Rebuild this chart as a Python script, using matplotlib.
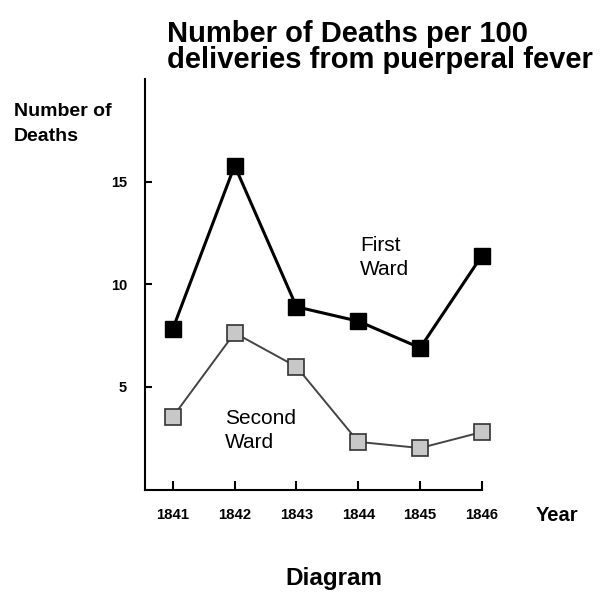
import matplotlib
matplotlib.use("Agg")
import matplotlib.pyplot as plt

plt.rcParams['font.family'] = ['Liberation Sans', 'DejaVu Sans']

years = [1841, 1842, 1843, 1844, 1845, 1846]
first_ward = [7.83, 15.78, 8.9, 8.2, 6.9, 11.4]
second_ward = [3.54, 7.63, 5.98, 2.32, 2.02, 2.8]
y_ticks = [5, 10, 15]

W, H = 600, 593
fig = plt.figure(figsize=(6.0, 5.93), dpi=100)
ax = fig.add_axes([145 / W, 1 - 489.5 / H, (482 - 145) / W, (489.5 - 79) / H])

ax.plot(years, second_ward, color='#444444', lw=1.4, marker='s', ms=11.5,
        mfc='#c8c8c8', mec='#333333', mew=1.2, zorder=3, clip_on=False)
ax.plot(years, first_ward, color='black', lw=2.2, marker='s', ms=12.2,
        mfc='black', mec='black', zorder=4, clip_on=False)

ax.set_xlim(1840.55, 1846)
ax.set_ylim(0, 20)
ax.set_xticks(years)
ax.set_xticklabels([str(y) for y in years])
ax.set_yticks(y_ticks)
ax.set_yticklabels([str(v) for v in y_ticks])
ax.tick_params(axis='x', direction='in', length=6.5, width=1.5, pad=13, labelsize=10.7)
ax.tick_params(axis='y', direction='in', length=5, width=1.5, pad=13, labelsize=10.5)
for lab in ax.get_xticklabels() + ax.get_yticklabels():
    lab.set_fontweight('bold')
for s in ['top', 'right']:
    ax.spines[s].set_visible(False)
for s in ['left', 'bottom']:
    ax.spines[s].set_linewidth(1.5)

def px(x, y):
    return x / W, 1 - y / H

fig.text(*px(360, 251), "First", fontsize=15, ha='left', va='baseline')
fig.text(*px(360, 275), "Ward", fontsize=15, ha='left', va='baseline')
fig.text(*px(225, 424), "Second", fontsize=15, ha='left', va='baseline')
fig.text(*px(225, 448), "Ward", fontsize=15, ha='left', va='baseline')

fig.text(*px(167, 42), "Number of Deaths per 100", fontsize=21, fontweight='bold',
         ha='left', va='baseline')
fig.text(*px(167, 68.5), "deliveries from puerperal fever", fontsize=21, fontweight='bold',
         ha='left', va='baseline')
fig.text(*px(14, 115.7), "Number of", fontsize=14, fontweight='bold', ha='left', va='baseline')
fig.text(*px(14, 140.7), "Deaths", fontsize=14, fontweight='bold', ha='left', va='baseline')
fig.text(*px(536, 521), "Year", fontsize=14.5, fontweight='bold', ha='left', va='baseline')
fig.text(*px(334, 585), "Diagram", fontsize=17.5, fontweight='bold', ha='center', va='baseline')

fig.savefig("out.png", dpi=100)
